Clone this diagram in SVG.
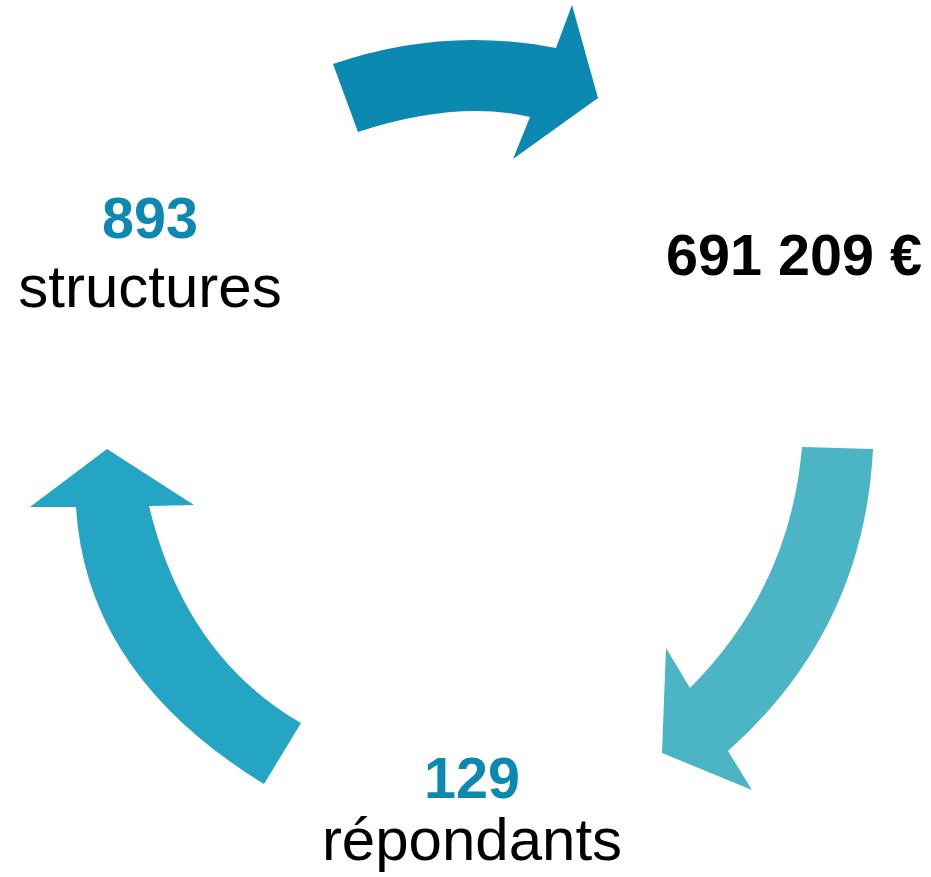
<svg xmlns="http://www.w3.org/2000/svg" width="931" height="877" viewBox="0 0 931 877">
<style>
text{font-family:"Liberation Sans",Arial,sans-serif;text-anchor:middle;font-size:60px}
.b{font-weight:bold;font-size:57.5px}
.num{fill:#0B89B1}
.blk{fill:#000000}
</style>
<rect width="931" height="877" fill="#ffffff"/>
<g id="connectors">
<path id="arrow-top" fill="#0B89B1" d="M333,64 Q443,26 556,48 L572,5 L598,98 L513,159 L530,117 Q456,100 358,132 Z"/>
<path id="arrow-right" fill="#4BB5C6" d="M802,447 L873,449 Q864,630 728,751 L752,790 L662,753 L666,648 L690,688 Q790,588 802,447 Z"/>
<path id="arrow-left" fill="#23A5C3" d="M264,784 Q86,675 76,507 L30,507 L107,449 L194,505 L149,506 Q185,656 301,723 Z"/>
</g>
<g id="node-structures">
<text class="b num" x="150" y="238">893</text>
<text class="blk" x="150" y="307">structures</text>
</g>
<g id="node-montant">
<text class="b blk" x="794" y="275">691 209 €</text>
</g>
<g id="node-repondants">
<text class="b num" x="472" y="798">129</text>
<text class="blk" x="472" y="860">répondants</text>
</g>
</svg>
